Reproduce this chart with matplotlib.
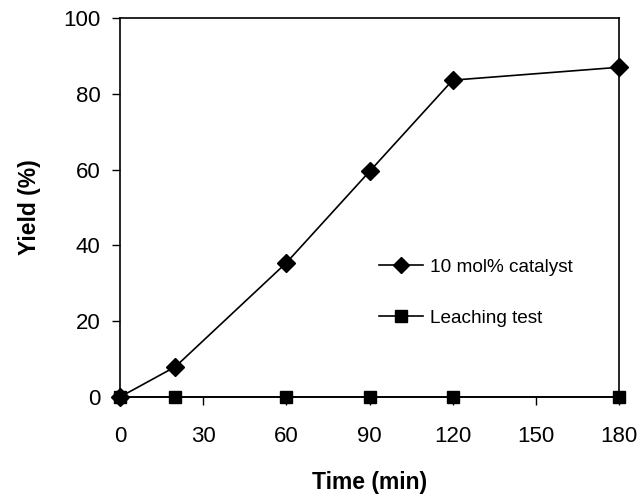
import matplotlib.pyplot as plt

plt.rcParams['font.family'] = ['Liberation Sans', 'DejaVu Sans']

# reaction time (min) and yield (%)
time = [0, 20, 60, 90, 120, 180]
catalyst_yield = [0, 8.0, 35.4, 59.5, 83.6, 87.0]
leaching_yield = [0, 0, 0, 0, 0, 0]

fig = plt.figure(figsize=(6.41, 4.96), dpi=100)
ax = fig.add_axes([120 / 641, 1 - 397 / 496, 499 / 641, 379 / 496])

ax.plot(time, catalyst_yield, color='black', lw=1.2, marker='D', ms=9,
        label='10 mol% catalyst', clip_on=False, zorder=3)
ax.plot(time, leaching_yield, color='black', lw=1.2, marker='s', ms=9,
        label='Leaching test', clip_on=False, zorder=3)

ax.set_xlim(0, 180)
ax.set_ylim(0, 100)
ax.set_xticks([0, 30, 60, 90, 120, 150, 180])
ax.set_yticks([0, 20, 40, 60, 80, 100])
ax.tick_params(direction='out', length=6, width=1, labelsize=16)
ax.tick_params(axis='x', pad=15)
ax.tick_params(axis='y', pad=8)
for s in ax.spines.values():
    s.set_linewidth(1.2)

ax.set_xlabel('Time (min)', fontsize=16.5, fontweight='bold', labelpad=17)
ax.set_ylabel('Yield (%)', fontsize=16.5, fontweight='bold', labelpad=16)

leg = ax.legend(loc='center left', bbox_to_anchor=(0.484, 0.275), frameon=False,
                fontsize=13.7, handlelength=2.35, labelspacing=1.75, handletextpad=0.35)
for h in leg.legend_handles:
    h.set_markersize(8)

fig.savefig('out.png', dpi=100)
